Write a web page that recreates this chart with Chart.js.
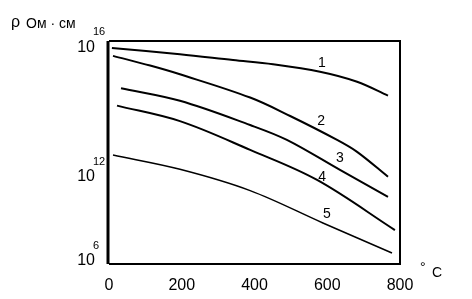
<!DOCTYPE html>
<html>
<head>
<meta charset="utf-8">
<script src="https://cdn.jsdelivr.net/npm/chart.js@4.4.1/dist/chart.umd.min.js"></script>
<style>
  body { margin: 0; background: #fff; }
  canvas { display: block; }
</style>
</head>
<body>
<canvas id="rhoChart" width="472" height="299"></canvas>
<script>
// temperature (°C) and log10 of resistivity (Ом·см)
const temps1 = [8, 195, 341, 451, 580, 682, 767];
const logRho1 = [15.98, 15.79, 15.61, 15.48, 15.25, 14.94, 14.51];
const temps2 = [11, 113, 195, 388, 498, 627, 682, 767];
const logRho2 = [15.74, 15.44, 15.17, 14.45, 13.88, 13.14, 12.77, 12.0];
const temps3 = [33, 195, 388, 489, 635, 767];
const logRho3 = [14.74, 14.35, 13.60, 13.14, 12.21, 11.38];
const temps4 = [22, 195, 388, 572, 786];
const logRho4 = [14.20, 13.72, 12.83, 11.90, 10.35];
const temps5 = [11, 195, 388, 588, 778];
const logRho5 = [12.67, 12.23, 11.57, 10.57, 9.64];

const curveNames = ['1', '2', '3', '4', '5'];
const labelTemps = [585, 583, 635, 586, 599];
const labelLogRho = [15.52, 13.72, 12.59, 12.0, 10.85];

const xTicks = [0, 200, 400, 600, 800];
const yTicks = [16, 12, 9.39];
const yTickExponents = ['16', '12', '6'];

const allTemps = [temps1, temps2, temps3, temps4, temps5];
const allRho = [logRho1, logRho2, logRho3, logRho4, logRho5];

const datasets = allTemps.map((t, i) => ({
    label: curveNames[i],
    data: t.map((x, j) => ({ x: x, y: allRho[i][j] })),
    borderColor: '#000',
    borderWidth: i === 4 ? 1.5 : 2,
    pointRadius: 0,
    fill: false,
    tension: 0.35
}));

const FONT = '"Liberation Sans", Arial, sans-serif';

// frame, y tick labels with exponents, curve numbers and axis titles
const decorations = {
    id: 'decorations',
    beforeDraw(chart) {
        const ctx = chart.ctx;
        ctx.save();
        ctx.fillStyle = '#fff';
        ctx.fillRect(0, 0, chart.width, chart.height);
        ctx.restore();
    },
    afterDraw(chart) {
        const ctx = chart.ctx;
        const a = chart.chartArea;
        const xs = chart.scales.x, ys = chart.scales.y;
        ctx.save();
        ctx.strokeStyle = '#000';
        ctx.lineWidth = 2;
        ctx.beginPath();
        ctx.moveTo(a.left, a.top);
        ctx.lineTo(a.right, a.top);
        ctx.lineTo(a.right, a.bottom);
        ctx.lineTo(a.left, a.bottom);
        ctx.stroke();
        ctx.lineWidth = 3;
        ctx.beginPath();
        ctx.moveTo(a.left - 1, a.top);
        ctx.lineTo(a.left - 1, a.bottom);
        ctx.stroke();

        ctx.fillStyle = '#000';
        yTicks.forEach((v, i) => {
            const py = ys.getPixelForValue(v);
            ctx.font = '16px ' + FONT;
            ctx.textAlign = 'right';
            ctx.textBaseline = 'middle';
            ctx.fillText('10', 95, py);
            ctx.font = '11px ' + FONT;
            ctx.textAlign = 'left';
            ctx.fillText(yTickExponents[i], 93, py - 15);
        });

        ctx.font = '14px ' + FONT;
        ctx.textAlign = 'center';
        ctx.textBaseline = 'middle';
        curveNames.forEach((n, i) => {
            ctx.fillText(n, xs.getPixelForValue(labelTemps[i]), ys.getPixelForValue(labelLogRho[i]));
        });

        ctx.textAlign = 'left';
        ctx.textBaseline = 'alphabetic';
        ctx.font = '16px ' + FONT;
        ctx.fillText('ρ', 11, 27);
        ctx.font = '14px ' + FONT;
        ctx.fillText('Ом · см', 26, 28);
        ctx.fillText('°', 420, 272);
        ctx.fillText('C', 432, 277);
        ctx.restore();
    }
};

new Chart(document.getElementById('rhoChart'), {
    type: 'line',
    data: { datasets: datasets },
    options: {
        responsive: false,
        animation: false,
        layout: { padding: { top: 41, right: 72, left: 0, bottom: 0 } },
        plugins: { legend: { display: false }, tooltip: { enabled: false } },
        scales: {
            x: {
                type: 'linear',
                min: 0,
                max: 800,
                afterBuildTicks: s => { s.ticks = xTicks.map(v => ({ value: v })); },
                afterFit: s => { s.height = 35; },
                grid: { display: false },
                border: { display: false },
                ticks: { color: '#000', font: { size: 16, family: FONT }, padding: 4, maxRotation: 0 }
            },
            y: {
                type: 'linear',
                min: 9.3,
                max: 16.2,
                afterFit: s => { s.width = 109; },
                grid: { display: false },
                border: { display: false },
                ticks: { display: false }
            }
        }
    },
    plugins: [decorations]
});
</script>
</body>
</html>
